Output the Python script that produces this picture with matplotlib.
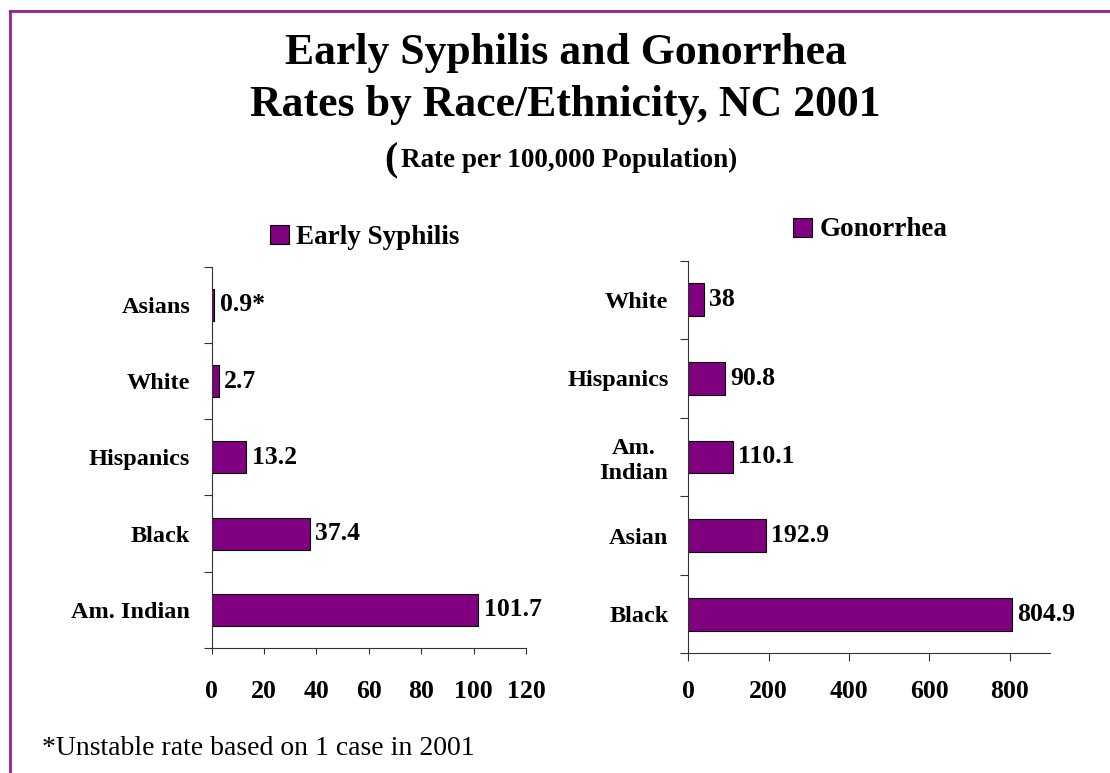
import numpy as np
import matplotlib
matplotlib.use("Agg")
import matplotlib.pyplot as plt
from matplotlib.lines import Line2D

plt.rcParams['font.family'] = ['Liberation Serif', 'DejaVu Serif']

# ---- data ----
syph_categories = ['Asians', 'White', 'Hispanics', 'Black', 'Am. Indian']
syph_values = [0.9, 2.7, 13.2, 37.4, 101.7]
syph_labels = ['0.9*', '2.7', '13.2', '37.4', '101.7']
syph_ticks = [0, 20, 40, 60, 80, 100, 120]

gon_categories = ['White', 'Hispanics', 'Am.\nIndian', 'Asian', 'Black']
gon_values = [38, 90.8, 110.1, 192.9, 804.9]
gon_labels = ['38', '90.8', '110.1', '192.9', '804.9']
gon_ticks = [0, 200, 400, 600, 800]

W, H = 1110, 773
BAR = '#800080'
SPINE = '#333333'

fig = plt.figure(figsize=(W / 100, H / 100), dpi=100)
fig.patch.set_facecolor('white')

def fx(px):
    return px / W

def fy(py):
    return 1 - py / H

# frame (top and left lines)
frame_c = '#961E96'
fig.add_artist(Line2D([fx(9.7), 1.0], [fy(11.3), fy(11.3)], transform=fig.transFigure,
                      color=frame_c, lw=2.0))
fig.add_artist(Line2D([fx(9.7), fx(9.7)], [fy(11.3), 0.0], transform=fig.transFigure,
                      color=frame_c, lw=2.0))

# titles
fig.text(fx(566), fy(64.3), 'Early Syphilis and Gonorrhea', ha='center', va='baseline',
         fontsize=31.5, fontweight='bold')
fig.text(fx(565), fy(116), 'Rates by Race/Ethnicity, NC 2001', ha='center', va='baseline',
         fontsize=31.5, fontweight='bold')
fig.text(fx(384), fy(170), '(', ha='left', va='baseline', fontsize=29, fontweight='bold')
fig.text(fx(401), fy(166.7), 'Rate per 100,000 Population)', ha='left', va='baseline',
         fontsize=19.5, fontweight='bold')

# footnote
fig.text(fx(42), fy(755), '*Unstable rate based on 1 case in 2001', ha='left', va='baseline',
         fontsize=20)


def make_panel(rect, cats, vals, labels, ticks, xmax, legend_name, leg_xy,
               xtick_len, xtick_pad, ytick_pad):
    ax = fig.add_axes(rect)
    y = np.arange(len(cats))
    bars = ax.barh(y, vals, height=0.42, color=BAR, edgecolor='black', linewidth=0.8,
                   label=legend_name)
    ax.bar_label(bars, labels=labels, padding=4, fontsize=18.5, fontweight='bold')
    ax.set_ylim(len(cats) - 0.5, -0.5)
    ax.set_xlim(0, xmax)
    ax.set_yticks(y)
    ax.set_yticklabels(cats, fontsize=17.5, fontweight='bold', multialignment='center')
    ax.tick_params(axis='y', which='major', length=0, pad=ytick_pad)
    ax.set_yticks(np.arange(-0.5, len(cats), 1.0), minor=True)
    ax.tick_params(axis='y', which='minor', length=5.5, width=0.8, color=SPINE, direction='out')
    ax.set_xticks(ticks)
    ax.set_xticklabels([str(t) for t in ticks], fontsize=18.5, fontweight='bold')
    ax.tick_params(axis='x', length=xtick_len, width=0.8, color=SPINE, pad=xtick_pad,
                   direction='out')
    for s in ('top', 'right'):
        ax.spines[s].set_visible(False)
    for s in ('left', 'bottom'):
        ax.spines[s].set_color(SPINE)
        ax.spines[s].set_linewidth(0.8)
    ax.set_facecolor('none')
    ax.legend(handles=[bars], labels=[legend_name], loc='center left',
              bbox_to_anchor=leg_xy, bbox_transform=fig.transFigure, frameon=False,
              borderpad=0, borderaxespad=0, handlelength=0.7, handleheight=0.7,
              handletextpad=0.27, prop=dict(weight='bold', size=19.5))
    return ax


make_panel([fx(211.7), fy(648), fx(526) - fx(211.7), fy(266.7) - fy(648)],
           syph_categories, syph_values, syph_labels, syph_ticks, 120,
           'Early Syphilis', (fx(270), fy(237.2)), 4.0, 19, 15.5)
make_panel([fx(688.3), fy(653.3), fx(1050) - fx(688.3), fy(260.7) - fy(653.3)],
           gon_categories, gon_values, gon_labels, gon_ticks, 900,
           'Gonorrhea', (fx(793), fy(230)), 5.5, 14, 14.3)

fig.savefig('out.png', dpi=100, facecolor='white')
